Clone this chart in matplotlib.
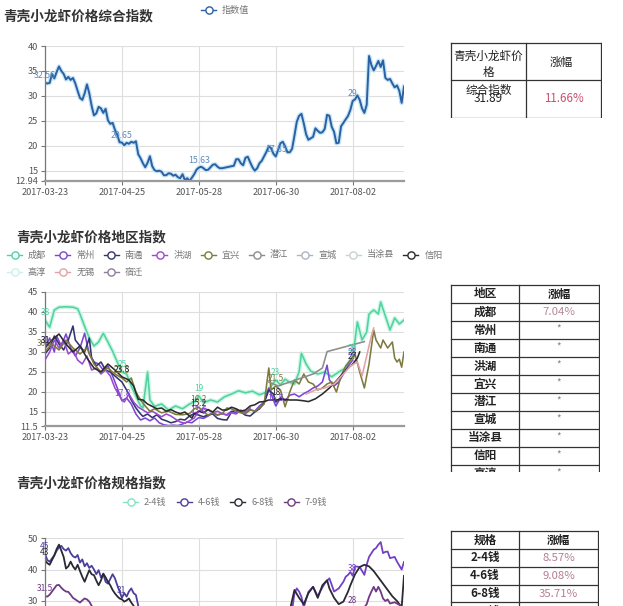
import numpy as np
import matplotlib
matplotlib.use('Agg')
import matplotlib.pyplot as plt
import matplotlib.dates as mdates
import matplotlib.patheffects as pe

plt.rcParams['font.family'] = ['Noto Sans CJK SC', 'DejaVu Sans']

# ---------------- data ----------------
START = '2017-03-23'
END = '2017-08-24'
tick_dates = ['2017-03-23', '2017-04-25', '2017-05-28', '2017-06-30', '2017-08-02']
label_days = [0, 33, 66, 99, 132]

# chart 1: composite index, daily from 2017-03-23
index_vals = [
    32.56, 32.5, 32.6, 34.4, 33.5, 34.8, 35.9, 35.0, 34.4, 33.3,
    33.8, 33.2, 33.6, 32.5, 31.0, 29.6, 29.2, 30.5, 32.3, 30.5,
    28.0, 26.1, 26.5, 27.8, 27.5, 26.6, 27.4, 25.1, 24.4, 24.6,
    23.2, 22.2, 20.7, 20.65, 20.1, 20.6, 20.4, 20.8, 20.6, 20.9,
    18.3, 17.5, 16.5, 15.7, 16.6, 17.9, 15.9, 15.1, 14.9, 15.0,
    14.8, 14.1, 14.1, 14.5, 14.4, 14.0, 14.2, 13.7, 13.5, 14.3,
    13.1, 13.5, 12.94, 13.6, 14.3, 15.2, 15.63, 15.8, 15.5, 15.1,
    15.2, 15.7, 16.2, 16.3, 15.8, 15.5, 15.5, 15.6, 15.7, 15.8,
    15.9, 16.0, 17.3, 17.3, 16.5, 16.1, 17.6, 17.8, 16.7, 15.7,
    15.0, 15.5, 16.5, 17.0, 17.9, 18.8, 19.9, 19.5, 18.4, 17.85,
    19.2, 20.5, 20.8, 19.9, 18.7, 18.7, 19.4, 22.0, 24.8, 26.0,
    26.4, 24.5, 22.3, 21.2, 21.5, 21.8, 23.5, 23.0, 22.6, 22.7,
    23.4, 26.2, 26.0, 23.8, 22.8, 20.5, 20.6, 23.9, 24.6, 25.3,
    26.0, 27.2, 29.0, 29.3, 30.1, 29.2, 27.5, 26.6, 28.2, 38.0,
    36.2, 35.1, 36.0, 37.0, 35.8, 37.1, 33.6, 33.2, 33.4, 32.5,
    31.7, 32.1, 31.0, 28.6, 31.89]
index_days = list(range(len(index_vals)))
index_yticks = [12.94, 15, 20, 25, 30, 35, 40]

# chart 2: regional indexes
region_names = ['成都', '常州', '南通', '洪湖', '宜兴', '潜江', '宣城', '当涂县', '信阳', '高淳', '无锡', '宿迁']
region_colors = ['#4fd3a0', '#7b45d6', '#34346e', '#9b4bd0', '#7d7a3e', '#8c8c8c',
                 '#aab6c4', '#c6d6c6', '#2b2b2b', '#cfeeee', '#e0a2a6', '#8e7e9e']

chengdu_days = [0, 2, 4, 6, 9, 12, 14, 15, 17, 19, 21, 23, 25, 27, 29, 31, 33, 35, 37, 39,
                41, 42, 44, 45, 47, 50, 53, 56, 59, 62, 64, 66, 68, 71, 74, 77, 80, 83, 86, 89,
                92, 95, 97, 99, 101, 103, 105, 107, 109, 110, 112, 114, 117, 120, 123, 126, 129,
                132, 133, 134, 136, 138, 139, 141, 143, 144, 146, 148, 150, 152, 154]
chengdu_vals = [38, 36.2, 40.5, 41.2, 41.3, 41.2, 40.8, 39.5, 36.4, 33.5, 31.5, 32.5, 34.7, 32.5,
                30.2, 27.5, 25, 24.5, 21.5, 19, 16.5, 16, 25, 18, 16.4, 17, 15.5, 16.5, 15.8, 17,
                17.5, 19, 17.3, 18, 17.5, 18.8, 19.5, 20.3, 19.8, 20.2, 19.3, 20, 21.5, 23, 21.8,
                23.2, 22.4, 22, 25, 29.7, 27, 25.2, 24.5, 25, 23.8, 25, 26, 29, 33, 37.5, 33, 35,
                39.5, 40.5, 39.5, 42.5, 39, 35.5, 38.5, 37, 38]

changzhou_days = [0, 2, 4, 5, 7, 9, 11, 13, 15, 17, 19, 21, 23, 25, 27, 29, 31, 33, 35, 37, 39,
                  41, 43, 45, 47, 49, 51, 53, 55, 57, 59, 61, 63, 65, 66, 68, 70, 72, 74, 76, 78,
                  80, 82, 84, 86, 88, 90, 92, 94, 96, 98, 99, 101, 103, 105, 107, 109, 111, 113,
                  115, 117, 119, 121, 122, 124, 126, 128, 130, 132]
changzhou_vals = [31, 33.5, 30, 34, 31.5, 34.5, 31, 29, 31, 34.7, 29.5, 27.5, 27, 25.5, 26.5, 24,
                  21, 17.8, 18.5, 17, 14.5, 13, 13.5, 12.8, 13.5, 12.3, 11.8, 11.6, 11.7, 11.6,
                  12.0, 12.5, 12.3, 13.2, 13.6, 13.4, 14, 14.8, 14.2, 14.6, 14.3, 15.2, 14.8,
                  15.3, 15.0, 15.6, 15.2, 16.5, 17.5, 21, 18, 16.5, 18.5, 17.8, 19.2, 19.5, 18.8,
                  19.6, 20.2, 21, 21.5, 22.5, 26.7, 23, 21.5, 22.5, 24.5, 26.5, 28]

nantong_days = [0, 2, 4, 6, 8, 10, 12, 13, 15, 17, 19, 20, 22, 24, 26, 28, 30, 33, 35, 37, 39,
                41, 42, 44, 46, 48, 50, 52, 54, 56, 58, 60, 62, 64, 66, 68, 70, 72, 74, 76, 78,
                80, 82, 84, 86, 88, 90, 92, 94, 96, 98, 99, 101, 103]
nantong_vals = [29.5, 31, 34, 32, 30.5, 33, 36.5, 33, 31.5, 30, 33.5, 28.5, 26.5, 27.5, 25.5, 25,
                24, 22.5, 20.5, 18, 16, 14.5, 13.9, 14.5, 13.6, 14.3, 13.2, 12.8, 12.3, 12.6,
                13.2, 13.0, 14.0, 14.6, 14.2, 13.8, 14.3, 14.5, 13.4, 13.1, 13.0, 15.0, 15.5,
                15.0, 14.2, 14.0, 15.0, 15.8, 17.2, 20.5, 19.5, 17.5, 18.5, 18.0]

honghu_days = [0, 2, 4, 6, 8, 10, 12, 14, 16, 18, 20, 22, 24, 26, 28, 30, 32, 33, 34, 36, 38,
               40, 42, 44, 46, 48, 50, 52, 54, 56, 58, 60, 62, 64, 66, 68, 70, 72, 74, 76, 78,
               80, 82, 84, 86, 88]
honghu_vals = [28, 30, 33, 31, 33, 29.5, 30.5, 28, 27, 29, 25.5, 26, 24.5, 25.5, 24, 21, 19, 18,
               17.5, 19.5, 17.5, 16.2, 15.5, 14.8, 15.2, 14.5, 13.8, 14.5, 14, 13.2, 12.5, 12.2,
               12.8, 13.5, 15.2, 16, 15.5, 14.8, 15.2, 14.6, 14.2, 14.8, 14.5, 15.5, 14.8, 16]

yixing_days = [0, 3, 6, 9, 12, 15, 18, 21, 24, 27, 30, 33, 35, 37, 39, 41, 43, 45, 47, 50, 53,
               56, 59, 62, 64, 66, 68, 70, 72, 74, 76, 78, 80, 82, 84, 86, 88, 90, 92, 94, 96,
               97, 99, 101, 103, 105, 107, 109, 111, 113, 115, 117, 119, 121, 123, 125, 127,
               129, 131, 133, 135, 137, 139, 141, 142, 144, 145, 147, 149, 150, 151, 152, 153, 154]
yixing_vals = [30.2, 32, 30.5, 33, 31, 29.5, 31, 27, 25, 26, 24.5, 23.5, 22.5, 23.5, 20, 18,
               16.5, 15.2, 15.8, 14.8, 15.2, 14.4, 14.3, 14.6, 15.8, 16.2, 15, 14.2, 14.8, 14.3,
               14.6, 16, 15.8, 15.2, 14.8, 14.6, 15.5, 15.2, 16, 17, 26, 20.5, 21.5, 20.5, 16.3,
               20, 23, 22, 24.5, 22.5, 22, 20.5, 21, 22, 22.5, 20, 24, 26.5, 28, 29.5, 25, 21,
               27, 35.5, 33, 31, 33, 31, 32.5, 28.5, 27.5, 28.2, 26.2, 30]

xinyang_days = [0, 3, 6, 9, 12, 15, 18, 21, 24, 27, 30, 33, 36, 38, 40, 42, 44, 46, 48, 50, 52,
                54, 56, 58, 60, 62, 63, 64, 66, 68, 70, 72, 74, 76, 78, 80, 82, 84, 86, 88, 90,
                92, 94, 96, 99, 102, 105, 108, 111, 113, 116, 119, 122, 125, 128, 130, 132, 134, 135]
xinyang_vals = [31, 33, 34.5, 32, 30, 31.5, 28.5, 26, 25, 27, 25.5, 23.8, 23, 21.5, 18.2, 18, 17,
                16.4, 15.8, 16, 15.2, 15.6, 15, 14.6, 15, 14, 13.5, 14.5, 15.2, 14.8, 15.6, 15,
                16.2, 15.5, 15.5, 16.2, 15.8, 15.2, 15.5, 16.5, 16.8, 17.5, 17.6, 18, 18, 18.2,
                18, 18, 17.8, 17.6, 18.3, 19.5, 21, 22.8, 24.8, 26, 27, 28.5, 30]

qianjiang_days = [96, 100, 105, 110, 115, 119, 121, 137]
qianjiang_vals = [22.5, 21.5, 22.5, 23.5, 24.5, 26, 30.1, 32.6]

wuxi_days = [112, 116, 120, 124, 128, 131, 134, 136, 138, 140, 141]
wuxi_vals = [19.5, 20.5, 21, 22, 24.5, 26.5, 27.5, 24, 29, 34, 36]

region_series = {
    '成都': (chengdu_days, chengdu_vals),
    '常州': (changzhou_days, changzhou_vals),
    '南通': (nantong_days, nantong_vals),
    '洪湖': (honghu_days, honghu_vals),
    '宜兴': (yixing_days, yixing_vals),
    '潜江': (qianjiang_days, qianjiang_vals),
    '信阳': (xinyang_days, xinyang_vals),
    '无锡': (wuxi_days, wuxi_vals),
}
region_labelled = ['成都', '常州', '宜兴', '信阳']
region_yticks = [11.5, 15, 20, 25, 30, 35, 40, 45]

# chart 3: size indexes (only the upper part is visible)
spec_names = ['2-4钱', '4-6钱', '6-8钱', '7-9钱']
spec_colors = ['#86e2c4', '#4b3f9c', '#2a2a35', '#6e3a84']

spec46_left_days = list(range(0, 42))
spec46_left_vals = [45, 43, 42.5, 43.5, 44.5, 46, 47, 47.5, 46.5, 46, 46.8, 45.2, 44.2, 43.8,
                    44.6, 42.2, 43.2, 41, 42, 40.5, 41.2, 40, 38.5, 39.8, 37.5, 38.5, 36.1, 35.5,
                    37, 38.5, 37.2, 35, 33, 31, 32.5, 31.4, 33, 34, 32.5, 31.9, 28.5, 26]
spec46_right_days = [106, 107, 108, 109, 110, 111, 113, 115, 117, 118, 120, 122, 124, 126, 128,
                     129, 130, 131, 132, 133, 135, 137, 138, 139, 141, 142, 143, 144, 145, 146,
                     147, 148, 150, 151, 153, 154]
spec46_right_vals = [27, 32.4, 34, 33, 31.3, 28, 32.9, 34.5, 31.5, 33, 35.6, 37.2, 33, 34, 36.1,
                     37.7, 38.3, 39.2, 38, 41, 40.8, 38.3, 41.5, 44, 46.3, 46.8, 47.9, 48.7, 45.2,
                     45.6, 45.7, 43.6, 44, 42.5, 40, 42.4]

spec68_left_days = list(range(0, 40))
spec68_left_vals = [43, 42, 41.5, 43, 44.5, 46.5, 47.9, 46, 44, 40.3, 41, 42.5, 41, 40, 41.5,
                    39.5, 37.7, 36.1, 38, 39.8, 38.5, 38.2, 36.5, 35, 36.5, 38.7, 37.5, 36.1, 35,
                    33.5, 32.4, 31.5, 30.8, 30.5, 29.8, 30.2, 30.8, 29.5, 28.5, 26]
spec68_right_days = [105, 107, 109, 111, 113, 115, 117, 119, 121, 122, 124, 126, 128, 130, 131,
                     133, 135, 137, 139, 141, 143, 145, 147, 149, 151, 153, 154]
spec68_right_vals = [27, 33.5, 31, 29, 32.5, 34.5, 31, 35, 36.6, 34, 31, 29, 29.8, 33, 35, 38.5,
                     40.8, 41.5, 41, 39.5, 37.5, 35.5, 33.5, 31.5, 30, 28, 38]

spec79_left_days = list(range(0, 22))
spec79_left_vals = [31.5, 31.4, 32, 33, 34, 35, 35.1, 34.2, 33.5, 33, 32.9, 32, 31, 30.5, 30,
                    29.5, 30.2, 30.8, 30.5, 29.8, 28.5, 27]
spec79_right_days = [130, 132, 134, 136, 138, 139, 140, 141, 142, 143, 144, 145, 146, 147, 148,
                     150, 152, 154]
spec79_right_vals = [26, 28, 27.5, 27, 29, 31.3, 33, 34.5, 33, 34.5, 33, 30.8, 30, 30.5, 29.2,
                     29.6, 28.8, 27]

spec_series = [
    ('4-6钱', spec46_left_days, spec46_left_vals, [0, 33]),
    ('4-6钱', spec46_right_days, spec46_right_vals, [132]),
    ('6-8钱', spec68_left_days, spec68_left_vals, [0]),
    ('6-8钱', spec68_right_days, spec68_right_vals, []),
    ('7-9钱', spec79_left_days, spec79_left_vals, [0]),
    ('7-9钱', spec79_right_days, spec79_right_vals, [132]),
]
spec_yticks = [10, 20, 30, 40, 50]

# tables
tbl1_header = ['青壳小龙虾价', '格', '涨幅']
tbl1_name = '综合指数'
tbl1_value = '31.89'
tbl1_change = '11.66%'

tbl2_header = ['地区', '涨幅']
tbl2_regions = ['成都', '常州', '南通', '洪湖', '宜兴', '潜江', '宣城', '当涂县', '信阳', '高淳']
tbl2_changes = ['7.04%', '*', '*', '*', '*', '*', '*', '*', '*', '*']

tbl3_header = ['规格', '涨幅']
tbl3_specs = ['2-4钱', '4-6钱', '6-8钱', '7-9钱']
tbl3_changes = ['8.57%', '9.08%', '35.71%', '']

# ---------------- drawing ----------------
W, H = 623, 606
fig = plt.figure(figsize=(W / 100, H / 100), dpi=100)
fig.patch.set_facecolor('white')


def px_axes(l, t, r, b):
    return fig.add_axes([l / W, 1 - b / H, (r - l) / W, (b - t) / H])


def to_dates(days):
    return np.datetime64(START) + np.array(days, dtype='timedelta64[D]')


def style_chart(ax, yticks, ylim, show_x=True):
    ax.set_xlim(np.datetime64(START), np.datetime64(END))
    ax.set_ylim(*ylim)
    ax.set_yticks(yticks)
    ax.set_yticklabels([f'{t:g}' for t in yticks])
    ax.set_xticks(mdates.date2num(np.array(tick_dates, dtype='datetime64[D]')))
    ax.xaxis.set_major_formatter(mdates.DateFormatter('%Y-%m-%d'))
    ax.grid(True, color='#dedede', lw=0.8)
    ax.set_axisbelow(True)
    for s in ['top', 'right']:
        ax.spines[s].set_visible(False)
    ax.spines['left'].set_color('#777')
    ax.spines['left'].set_linewidth(0.9)
    ax.spines['bottom'].set_color('#9a9a9a')
    ax.spines['bottom'].set_linewidth(1.6)
    ax.tick_params(labelsize=6.6, labelcolor='#555', color='#777', length=3, width=0.8, pad=2)
    if not show_x:
        ax.tick_params(axis='x', labelbottom=False, length=0)


def add_labels(ax, days, vals, color, which=label_days, fs=6):
    for d, v in zip(days, vals):
        if d in which:
            x = mdates.date2num(to_dates([d]))[0]
            ax.annotate(f'{v:g}', (x, v), xytext=(0, 2), textcoords='offset points',
                        ha='center', va='bottom', fontsize=fs, color=color, clip_on=False)


# chart 1
ax1 = px_axes(45, 46, 404, 181)
ax1.plot(to_dates(index_days), index_vals, color='#2d5fa3', lw=1.4,
         path_effects=[pe.Stroke(linewidth=3.2, foreground='#c4e6f6'), pe.Normal()])
style_chart(ax1, index_yticks, (12.94, 40))
add_labels(ax1, index_days, index_vals, '#5b8cc0', fs=6.3)

# chart 2
ax2 = px_axes(45, 292, 404, 426)
for name in region_series:
    days, vals = region_series[name]
    col = region_colors[region_names.index(name)]
    kw = {}
    if name == '成都':
        kw['path_effects'] = [pe.Stroke(linewidth=3, foreground='#cdf5e4'), pe.Normal()]
    ax2.plot(to_dates(days), vals, color=col, lw=1.15, **kw)
    if name in region_labelled:
        add_labels(ax2, days, vals, col, fs=6)
style_chart(ax2, region_yticks, (11.5, 45))

# chart 3
ax3 = px_axes(45, 538, 404, 664)
for name, days, vals, lab in spec_series:
    col = spec_colors[spec_names.index(name)]
    if name == '4-6钱' and days[0] > 50:
        col = '#7440c4'
    ax3.plot(to_dates(days), vals, color=col, lw=1.3)
    add_labels(ax3, days, vals, col, which=lab, fs=6)
style_chart(ax3, spec_yticks, (10, 50), show_x=False)

# overlay for titles and legends
ov = fig.add_axes([0, 0, 1, 1], facecolor='none')
ov.set_xlim(0, W)
ov.set_ylim(H, 0)
ov.axis('off')

title_kw = dict(fontsize=9.8, fontweight='bold', color='#333', va='center', ha='left')
ov.text(3, 16, '青壳小龙虾价格综合指数', **title_kw)
ov.text(16, 237, '青壳小龙虾价格地区指数', **title_kw)
ov.text(16, 483, '青壳小龙虾价格规格指数', **title_kw)


def legend_item(x, y, color, label, fs=6.6):
    ov.plot([x, x + 15], [y, y], color=color, lw=1)
    ov.plot([x + 7.5], [y], marker='o', ms=5.2, mfc='white', mec=color, mew=1)
    ov.text(x + 21, y, label, fontsize=fs, color='#777', va='center', ha='left')


legend_item(201, 10, '#2d5fa3', '指数值')

x = 7
for name in region_names[:9]:
    legend_item(x, 255, region_colors[region_names.index(name)], name)
    x += 15 + 7 + 9.2 * len(name) + 8
x = 7
for name in region_names[9:]:
    legend_item(x, 272, region_colors[region_names.index(name)], name)
    x += 15 + 7 + 9.2 * len(name) + 8

for i, name in enumerate(spec_names):
    legend_item(123 + 53.5 * i, 502, spec_colors[i], name)

# ---- tables
LC = '#333'


def table_axes(l, t, r, b):
    ax = px_axes(l, t, r, b)
    ax.set_xlim(-1, r - l + 1)
    ax.set_ylim(b - t, -1)
    ax.axis('off')
    return ax


# table 1
t1 = table_axes(450, 42, 602, 118)
for yy in [0, 37, 76]:
    t1.plot([0, 152], [yy, yy], color=LC, lw=0.9)
for xx in [0, 76, 152]:
    t1.plot([xx, xx], [0, 76], color=LC, lw=0.9)
t1.text(38, 13, tbl1_header[0], fontsize=8.4, ha='center', va='center', color='#222')
t1.text(38, 30, tbl1_header[1], fontsize=8.4, ha='center', va='center', color='#222')
t1.text(112, 19.5, tbl1_header[2], fontsize=8.4, ha='center', va='center', color='#222')
t1.text(38, 48, tbl1_name, fontsize=8.4, ha='center', va='center', color='#222')
t1.text(38, 56, tbl1_value, fontsize=8.4, ha='center', va='center', color='#222')
t1.text(114, 56, tbl1_change, fontsize=8.4, ha='center', va='center', color='#c8506e')


def grid_table(l, t, r, b, split, row_h, header, names, changes, first_color):
    ax = table_axes(l, t, r, b)
    w = r - l
    h = b - t
    n = len(names) + 1
    for i in range(n + 1):
        yy = i * row_h
        if yy <= h:
            ax.plot([0, w], [yy, yy], color=LC, lw=0.9)
    for xx in [0, split, w]:
        ax.plot([xx, xx], [0, h + 2], color=LC, lw=0.9)
    cx1 = split / 2
    cx2 = (split + w) / 2
    ax.text(cx1, row_h / 2, header[0], fontsize=8.4, fontweight='bold', ha='center',
            va='center', color='#222', clip_on=True)
    ax.text(cx2, row_h / 2, header[1], fontsize=8.4, fontweight='bold', ha='center',
            va='center', color='#222', clip_on=True)
    for i, (nm, ch) in enumerate(zip(names, changes)):
        yc = (i + 1.5) * row_h
        ax.text(cx1, yc, nm, fontsize=8.4, fontweight='bold', ha='center', va='center',
                color='#222', clip_on=True)
        if ch == '*':
            ax.text(cx2, yc - 1, ch, fontsize=7, ha='center', va='center', color='#888',
                    clip_on=True)
        elif ch:
            ax.text(cx2, yc, ch, fontsize=8.2, ha='center', va='center', color=first_color,
                    clip_on=True)


grid_table(450, 284, 600, 472, 69, 18.07, tbl2_header, tbl2_regions, tbl2_changes, '#b58899')
grid_table(450, 530, 599, 606, 69, 18.1, tbl3_header, tbl3_specs, tbl3_changes, '#b47d95')

fig.savefig('out.png', dpi=100, facecolor='white')
